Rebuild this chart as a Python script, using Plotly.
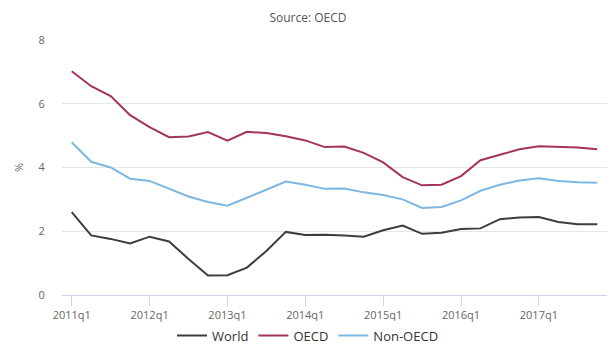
import plotly.graph_objects as go

# Quarterly periods 2011q1 .. 2017q4
quarters = [f"{y}q{q}" for y in range(2011, 2018) for q in range(1, 5)]
year_ticks = [f"{y}q1" for y in range(2011, 2018)]

world = [2.60, 1.87, 1.76, 1.62, 1.83, 1.68, 1.13, 0.61, 0.62, 0.86, 1.38, 1.98,
         1.88, 1.89, 1.87, 1.83, 2.03, 2.18, 1.92, 1.95, 2.07, 2.09, 2.38, 2.43,
         2.45, 2.29, 2.22, 2.22]
oecd = [7.02, 6.55, 6.24, 5.64, 5.27, 4.95, 4.97, 5.11, 4.84, 5.12, 5.08, 4.98,
        4.85, 4.64, 4.66, 4.46, 4.16, 3.70, 3.44, 3.46, 3.73, 4.23, 4.40, 4.57,
        4.67, 4.64, 4.63, 4.57]
non_oecd = [4.79, 4.18, 4.00, 3.65, 3.58, 3.33, 3.09, 2.92, 2.80, 3.05, 3.30, 3.56,
            3.46, 3.33, 3.34, 3.22, 3.14, 3.00, 2.73, 2.76, 2.97, 3.27, 3.46, 3.59,
            3.66, 3.58, 3.54, 3.52]

series = [
    ("World", world, "#3d3d3d"),
    ("OECD", oecd, "#a3335f"),
    ("Non-OECD", non_oecd, "#7db7e3"),
]

fig = go.Figure()
for name, vals, color in series:
    fig.add_trace(go.Scatter(
        x=quarters, y=vals, name=name, mode="lines",
        line=dict(color=color, width=2),
    ))

font_family = "Open Sans, DejaVu Sans, sans-serif"

fig.update_layout(
    width=616, height=346,
    margin=dict(l=62, r=9, t=40, b=51, autoexpand=False),
    paper_bgcolor="white", plot_bgcolor="white",
    font=dict(family=font_family, color="#666666", size=11),
    title=dict(text="Source: OECD", x=0.5, xanchor="center", y=0.95, yanchor="middle",
               font=dict(size=12, color="#555555", family=font_family)),
    showlegend=True,
    legend=dict(orientation="h", xref="container", x=0.5, xanchor="center",
                y=-0.1, yanchor="top",
                font=dict(size=13, color="#333333"), itemwidth=30),
    xaxis=dict(
        type="category", categoryorder="array", categoryarray=quarters,
        range=[-0.5, len(quarters) - 0.5],
        tickmode="array", tickvals=year_ticks, ticktext=year_ticks,
        ticks="outside", ticklen=10, tickcolor="#ccd6eb", tickwidth=1,
        showline=True, linecolor="#ccd6eb", linewidth=1,
        showgrid=False, tickfont=dict(size=11, color="#666666"),
        fixedrange=True,
    ),
    yaxis=dict(
        range=[0, 8], dtick=2, tick0=0,
        showgrid=True, gridcolor="#e6e6e6", gridwidth=1,
        zeroline=False, showline=False,
        ticks="outside", ticklen=14, tickcolor="rgba(0,0,0,0)",
        tickfont=dict(size=11, color="#666666"),
        title=dict(text="%", font=dict(size=11, color="#666666"), standoff=12),
        fixedrange=True,
    ),
)

fig.write_html("out.html")
